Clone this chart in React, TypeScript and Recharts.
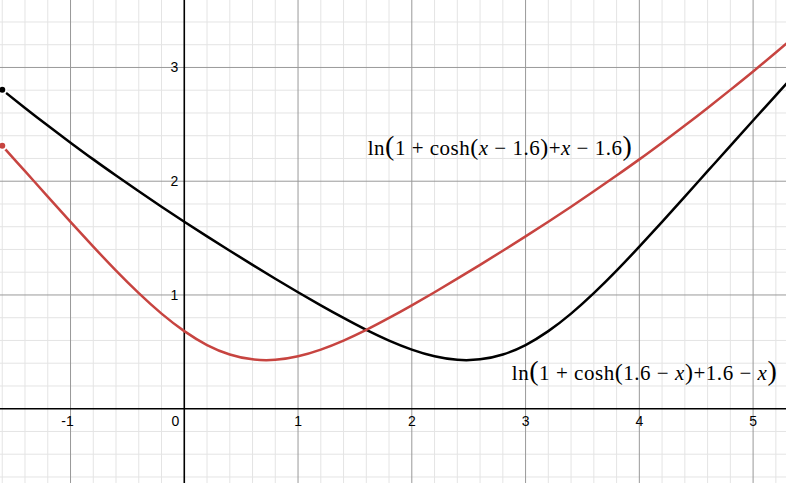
import React from "react";
import { LineChart, Line, XAxis, YAxis, ReferenceLine, ReferenceDot } from "recharts";

// x positions
const xs = [-2.2, -2.0, -1.8, -1.6, -1.4, -1.2, -1.0, -0.8, -0.6, -0.4, -0.2, 0, 0.2, 0.4, 0.6, 0.8, 1.0, 1.2, 1.4, 1.6, 1.8, 2.0, 2.2, 2.4, 2.6, 2.8, 3.0, 3.2, 3.4, 3.6, 3.8, 4.0, 4.2, 4.4, 4.6, 4.8, 5.0, 5.2, 5.4, 5.6, 5.8];
// red curve: ln(1+cosh(x-1.6)+x-1.6)
const redValues = [2.974, 2.755, 2.534, 2.311, 2.088, 1.865, 1.643, 1.425, 1.214, 1.016, 0.836, 0.682, 0.560, 0.477, 0.434, 0.430, 0.461, 0.520, 0.599, 0.693, 0.798, 0.909, 1.024, 1.143, 1.265, 1.389, 1.515, 1.644, 1.776, 1.911, 2.050, 2.192, 2.339, 2.489, 2.644, 2.803, 2.965, 3.132, 3.302, 3.476, 3.652];
// black curve: ln(1+cosh(1.6-x)+1.6-x)
const blackValues = [3.302, 3.132, 2.965, 2.803, 2.644, 2.489, 2.339, 2.192, 2.050, 1.911, 1.776, 1.644, 1.515, 1.389, 1.265, 1.143, 1.024, 0.909, 0.798, 0.693, 0.599, 0.520, 0.461, 0.430, 0.434, 0.477, 0.560, 0.682, 0.836, 1.016, 1.214, 1.425, 1.643, 1.865, 2.088, 2.311, 2.534, 2.755, 2.976, 3.191, 3.406];

const xTickLabels = [-1, 0, 1, 2, 3, 4, 5];
const yTickLabels = [1, 2, 3];
const majorX = [-1, 1, 2, 3, 4, 5];
const majorY = [1, 2, 3];
const minorX = [-1.6, -1.4, -1.2, -0.8, -0.6, -0.4, -0.2, 0.2, 0.4, 0.6, 0.8, 1.2, 1.4, 1.6, 1.8, 2.2, 2.4, 2.6, 2.8, 3.2, 3.4, 3.6, 3.8, 4.2, 4.4, 4.6, 4.8, 5.2];
const minorY = [-0.6, -0.4, -0.2, 0.2, 0.4, 0.6, 0.8, 1.2, 1.4, 1.6, 1.8, 2.2, 2.4, 2.6, 2.8, 3.2, 3.4];

// visible window (data coords) and the full plotted domain
const viewX = [-1.622, 5.287];
const fullX = [-2.2, 5.8];
const yDomain = [-0.653, 3.593];

// annotation anchors (data coords: left edge, baseline)
const redLabelPos = { x: 1.613, y: 2.23 };
const blackLabelPos = { x: 2.879, y: 0.252 };

const data = xs.map((x, i) => ({ x, red: redValues[i], black: blackValues[i] }));

const W = 786;
const H = 483;
const pxPerUnit = W / (viewX[1] - viewX[0]);
const chartW = (fullX[1] - fullX[0]) * pxPerUnit;
const chartLeft = (fullX[0] - viewX[0]) * pxPerUnit;

const RED = "#c74440";
const MATH_FONT = "'Liberation Serif', 'Times New Roman', serif";
const TICK_FONT = "'Liberation Sans', Arial, sans-serif";

const P = ({ children }: { children: string }) => <tspan fontSize={28}>{children}</tspan>;
const Q = ({ children }: { children: string }) => <tspan fontSize={24}>{children}</tspan>;

const RedLabel = (props: any) => {
  const { cx, cy } = props;
  return (
    <text x={cx} y={cy} fontFamily={MATH_FONT} fontSize={21} fill="#000" textLength={264} lengthAdjust="spacing">
      <tspan>ln</tspan>
      <P>(</P>
      <tspan>1 + cosh</tspan>
      <Q>(</Q>
      <tspan fontStyle="italic">x</tspan>
      <tspan> − 1.6</tspan>
      <Q>)</Q>
      <tspan>+</tspan>
      <tspan fontStyle="italic">x</tspan>
      <tspan> − 1.6</tspan>
      <P>)</P>
    </text>
  );
};

const BlackLabel = (props: any) => {
  const { cx, cy } = props;
  return (
    <text x={cx} y={cy} fontFamily={MATH_FONT} fontSize={21} fill="#000" textLength={265} lengthAdjust="spacing">
      <tspan>ln</tspan>
      <P>(</P>
      <tspan>1 + cosh</tspan>
      <Q>(</Q>
      <tspan>1.6 − </tspan>
      <tspan fontStyle="italic">x</tspan>
      <Q>)</Q>
      <tspan>+1.6 − </tspan>
      <tspan fontStyle="italic">x</tspan>
      <P>)</P>
    </text>
  );
};

const XTick = (v: number) => (props: any) => {
  const { cx, cy } = props;
  if (v === 0) {
    return (
      <text x={cx - 5} y={cy + 17} textAnchor="end" fontFamily={TICK_FONT} fontSize={14} fill="#000">
        {String(v)}
      </text>
    );
  }
  return (
    <text x={v < 0 ? cx - 3 : cx} y={cy + 17} textAnchor="middle" fontFamily={TICK_FONT} fontSize={14} fill="#000">
      {v < 0 ? "-" + Math.abs(v) : String(v)}
    </text>
  );
};

const YTick = (v: number) => (props: any) => {
  const { cx, cy } = props;
  return (
    <text x={cx - 6} y={cy + 5} textAnchor="end" fontFamily={TICK_FONT} fontSize={14} fill="#000">
      {String(v)}
    </text>
  );
};

export default function App() {
  return (
    <div style={{ position: "absolute", left: 0, top: 0, width: W, height: H, overflow: "hidden", background: "#fff" }}>
      <div style={{ position: "absolute", left: chartLeft, top: 0 }}>
        <LineChart width={chartW} height={H} data={data} margin={{ top: 0, right: 0, bottom: 0, left: 0 }}>
          <XAxis type="number" dataKey="x" domain={fullX} allowDataOverflow hide />
          <YAxis type="number" domain={yDomain} allowDataOverflow hide />
          {minorX.map((v) => (
            <ReferenceLine key={"mx" + v} x={v} stroke="#e4e4e4" strokeWidth={1} />
          ))}
          {minorY.map((v) => (
            <ReferenceLine key={"my" + v} y={v} stroke="#e4e4e4" strokeWidth={1} />
          ))}
          {majorX.map((v) => (
            <ReferenceLine key={"Mx" + v} x={v} stroke="#999" strokeWidth={1} />
          ))}
          {majorY.map((v) => (
            <ReferenceLine key={"My" + v} y={v} stroke="#999" strokeWidth={1} />
          ))}
          <ReferenceLine x={0} stroke="#000" strokeWidth={1.6} />
          <ReferenceLine y={0} stroke="#000" strokeWidth={1.6} />
          <Line type="natural" dataKey="black" stroke="#000" strokeWidth={2.5} dot={false} isAnimationActive={false} />
          <Line type="natural" dataKey="red" stroke={RED} strokeWidth={2.5} dot={false} isAnimationActive={false} />
          {xTickLabels.map((v) => (
            <ReferenceDot key={"xt" + v} x={v} y={0} r={0} shape={XTick(v)} />
          ))}
          {yTickLabels.map((v) => (
            <ReferenceDot key={"yt" + v} x={0} y={v} r={0} shape={YTick(v)} />
          ))}
          <ReferenceDot x={redLabelPos.x} y={redLabelPos.y} r={0} shape={RedLabel} />
          <ReferenceDot x={blackLabelPos.x} y={blackLabelPos.y} r={0} shape={BlackLabel} />
        </LineChart>
      </div>
    </div>
  );
}
